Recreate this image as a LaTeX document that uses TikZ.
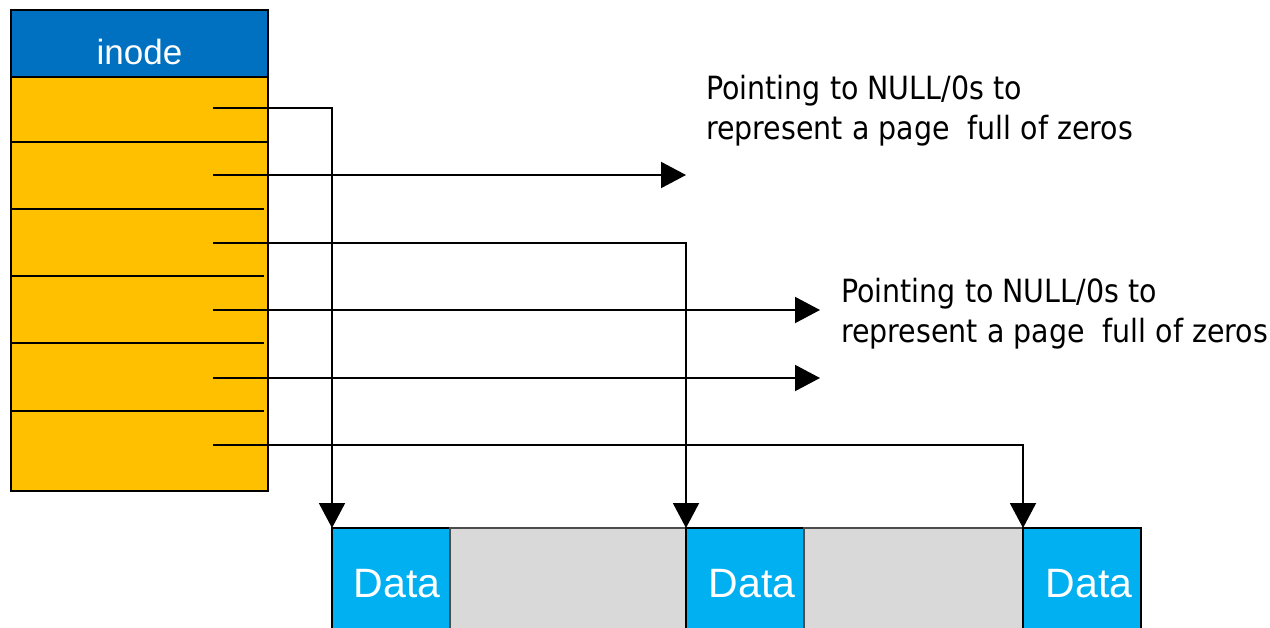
\documentclass[tikz,border=0pt]{standalone}
\usepackage{fontspec}
\setmainfont{Liberation Sans}
\newfontfamily\notefont[FakeStretch=0.89]{DejaVu Sans}
\usetikzlibrary{arrows.meta}
\definecolor{inodeblue}{HTML}{0070C0}
\definecolor{slotyellow}{HTML}{FFC000}
\definecolor{datablue}{HTML}{00B0F0}
\definecolor{holegray}{HTML}{D9D9D9}
\begin{document}
\begin{tikzpicture}[x=1pt,y=-1pt,
  box/.style={draw=black,line width=2pt,inner sep=0pt,outer sep=0pt},
  datablock/.style={box,fill=datablue,minimum width=118pt,minimum height=110pt,anchor=north west},
  hole/.style={box,draw=black!70,fill=holegray,minimum height=110pt,anchor=north west},
  datatext/.style={text=white,font=\fontsize{41}{41}\selectfont},
  ptr/.style={line width=2pt},
  ptrarrow/.style={ptr,-{Triangle[length=25pt,width=26pt]}},
  note/.style={anchor=north west,align=left,inner sep=0pt,font=\notefont\fontsize{32}{40}\selectfont}
]
\useasboundingbox (0,0) rectangle (1270,627);
\clip (0,0) rectangle (1270,627);

% inode header and slot table
\node[box,fill=inodeblue,minimum width=257pt,minimum height=67pt,anchor=north west] (hdr) at (11,10) {};
\node[text=white,font=\fontsize{35}{35}\selectfont,anchor=base] (hdrtext) at (139.5,64) {inode};
\node[box,fill=slotyellow,minimum width=257pt,minimum height=414pt,anchor=north west] (tbl) at (11,77) {};
\draw[ptr] (11,142) -- (268,142);
\foreach \y in {209,276,343,411} \draw[ptr] (11,\y) -- (264,\y);

% pointer stubs inside the slots
\foreach \i/\y in {1/108,2/175,3/243,4/310,5/378,6/445}
  \coordinate (p\i) at (213,\y);

% data pages and holes
\node[datablock] (d1) at (332,528) {};
\node[hole,minimum width=236pt] (g1) at (450,528) {};
\node[datablock] (d2) at (686,528) {};
\node[hole,minimum width=219pt] (g2) at (804,528) {};
\node[datablock] (d3) at (1023,528) {};
\node[datatext,anchor=base] (t1) at (397,597) {Data};
\node[datatext,anchor=base] (t2) at (752,597) {Data};
\node[datatext,anchor=base] (t3) at (1089,597) {Data};

% free ends of the null pointers
\coordinate (n2) at (686,175);
\coordinate (n4) at (820,310);
\coordinate (n5) at (820,378);

% pointers
\draw[ptrarrow] (p1) -- (p1 -| d1.north west) -- (d1.north west);
\draw[ptrarrow] (p2) -- (n2);
\draw[ptrarrow] (p3) -- (p3 -| d2.north west) -- (d2.north west);
\draw[ptrarrow] (p4) -- (n4);
\draw[ptrarrow] (p5) -- (n5);
\draw[ptrarrow] (p6) -- (p6 -| d3.north west) -- (d3.north west);

% notes
\node[note] (note1) at (706,75) {Pointing to NULL/0s to\\represent a page\ \ full of zeros};
\node[note] (note2) at (841,278) {Pointing to NULL/0s to\\represent a page\ \ full of zeros};
\end{tikzpicture}
\end{document}
